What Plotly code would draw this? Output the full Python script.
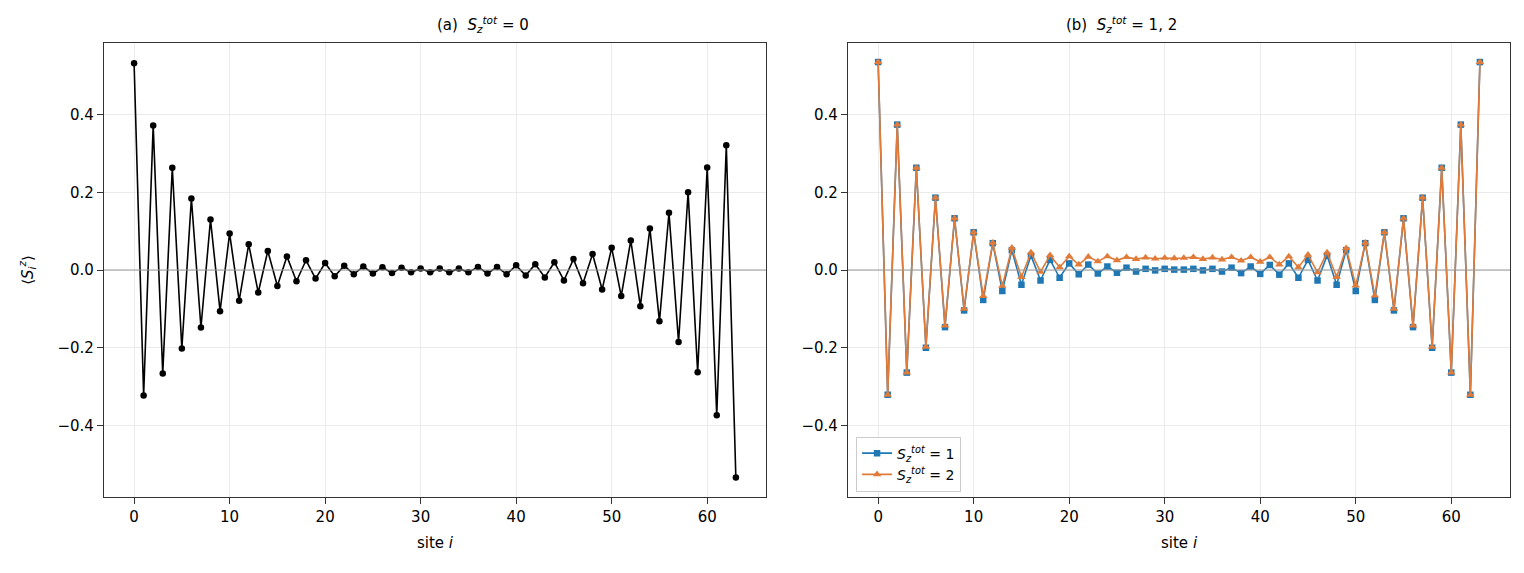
import plotly.graph_objects as go
from plotly.subplots import make_subplots

# sites 0..63
sites = list(range(64))

# <S_i^z> for S_z^tot = 0
sz_tot0 = [
    0.532, -0.323, 0.372, -0.266, 0.263, -0.202, 0.184, -0.148, 0.130, -0.106,
    0.094, -0.079, 0.066, -0.058, 0.049, -0.041, 0.035, -0.029, 0.025, -0.022,
    0.018, -0.016, 0.011, -0.011, 0.009, -0.009, 0.007, -0.008, 0.006, -0.006,
    0.004, -0.006, 0.004, -0.006, 0.004, -0.006, 0.008, -0.009, 0.008, -0.011,
    0.012, -0.014, 0.015, -0.019, 0.020, -0.027, 0.028, -0.034, 0.041, -0.050,
    0.057, -0.067, 0.076, -0.093, 0.107, -0.132, 0.147, -0.185, 0.200, -0.263,
    0.264, -0.374, 0.321, -0.534,
]

# S_z^tot = 1
sz_tot1 = [
    0.535, -0.321, 0.374, -0.264, 0.263, -0.200, 0.186, -0.147, 0.133, -0.104,
    0.097, -0.077, 0.069, -0.054, 0.051, -0.038, 0.037, -0.027, 0.026, -0.020,
    0.017, -0.011, 0.014, -0.009, 0.009, -0.007, 0.006, -0.004, 0.003, -0.001,
    0.003, 0.001, 0.001, 0.003, -0.001, 0.003, -0.004, 0.006, -0.008, 0.009,
    -0.010, 0.013, -0.012, 0.017, -0.020, 0.026, -0.027, 0.037, -0.038, 0.051,
    -0.054, 0.069, -0.077, 0.097, -0.104, 0.133, -0.147, 0.186, -0.200, 0.263,
    -0.264, 0.374, -0.321, 0.535,
]

# S_z^tot = 2
sz_tot2 = [
    0.535, -0.321, 0.374, -0.264, 0.263, -0.198, 0.186, -0.143, 0.133, -0.100,
    0.097, -0.067, 0.070, -0.041, 0.057, -0.018, 0.045, -0.005, 0.038, 0.007,
    0.035, 0.014, 0.034, 0.022, 0.035, 0.025, 0.033, 0.028, 0.032, 0.029,
    0.031, 0.030, 0.031, 0.033, 0.028, 0.032, 0.027, 0.033, 0.024, 0.033,
    0.021, 0.033, 0.014, 0.035, 0.007, 0.039, -0.006, 0.045, -0.018, 0.056,
    -0.040, 0.070, -0.066, 0.097, -0.100, 0.133, -0.143, 0.186, -0.198, 0.263,
    -0.264, 0.374, -0.321, 0.535,
]

FONT = "DejaVu Sans"
BLUE = "#1f77b4"
ORANGE = "#e07b39"

fig = make_subplots(rows=1, cols=2, horizontal_spacing=0.0584)

fig.add_trace(go.Scatter(
    x=sites, y=sz_tot0, mode="lines+markers", showlegend=False,
    line=dict(color="black", width=1.6),
    marker=dict(color="black", size=6.5, symbol="circle"),
), row=1, col=1)

fig.add_trace(go.Scatter(
    x=sites, y=sz_tot1, mode="lines+markers",
    name="<i>S</i><sub><i>z</i></sub><sup><i>tot</i></sup> = 1",
    line=dict(color=BLUE, width=1.6),
    marker=dict(color=BLUE, size=6.5, symbol="square"),
), row=1, col=2)

fig.add_trace(go.Scatter(
    x=sites, y=sz_tot2, mode="lines+markers",
    name="<i>S</i><sub><i>z</i></sub><sup><i>tot</i></sup> = 2",
    line=dict(color=ORANGE, width=1.6),
    marker=dict(color=ORANGE, size=7.5, symbol="triangle-up"),
), row=1, col=2)

for c in (1, 2):
    fig.add_hline(y=0, line=dict(color="#999999", width=1), row=1, col=c)
    fig.update_xaxes(
        range=[-3.15, 66.15], tickvals=[0, 10, 20, 30, 40, 50, 60],
        showgrid=True, gridcolor="#ebebeb", gridwidth=1, zeroline=False,
        showline=True, linecolor="#333333", linewidth=1.3, mirror=True,
        ticks="outside", ticklen=6, tickcolor="#333333", tickfont=dict(size=15),
        title=dict(text="site <i>i</i>", font=dict(size=15), standoff=12),
        row=1, col=c,
    )
    fig.update_yaxes(
        range=[-0.584, 0.584], tickvals=[-0.4, -0.2, 0, 0.2, 0.4],
        ticktext=["\u22120.4", "\u22120.2", "0.0", "0.2", "0.4"],
        showgrid=True, gridcolor="#ebebeb", gridwidth=1, zeroline=False,
        showline=True, linecolor="#333333", linewidth=1.3, mirror=True,
        ticks="outside", ticklen=6, tickcolor="#333333", tickfont=dict(size=15),
        row=1, col=c,
    )

fig.update_yaxes(
    title=dict(text="\u27e8<i>S</i><sub><i>i</i></sub><sup><i>z</i></sup>\u27e9",
               font=dict(size=15), standoff=20),
    row=1, col=1,
)

fig.add_annotation(
    text="(a)  <i>S</i><sub><i>z</i></sub><sup><i>tot</i></sup> = 0",
    x=0.2354, y=1.0, xref="paper", yref="paper", yanchor="bottom", yshift=6,
    showarrow=False, font=dict(size=15),
)
fig.add_annotation(
    text="(b)  <i>S</i><sub><i>z</i></sub><sup><i>tot</i></sup> = 1, 2",
    x=0.7646, y=1.0, xref="paper", yref="paper", yanchor="bottom", yshift=6,
    showarrow=False, font=dict(size=15),
)

# page adds an 8px body margin, so the figure is 16px smaller than the window
fig.update_layout(
    width=1508, height=557,
    margin=dict(l=96, r=6, t=35, b=68),
    plot_bgcolor="white", paper_bgcolor="white",
    font=dict(family=FONT, size=15, color="black"),
    legend=dict(
        x=0.5349, y=0.012, xanchor="left", yanchor="bottom",
        bgcolor="rgba(255,255,255,0.85)", bordercolor="#cccccc", borderwidth=1,
        font=dict(size=14), tracegroupgap=4,
    ),
)

fig.write_html("out.html")
